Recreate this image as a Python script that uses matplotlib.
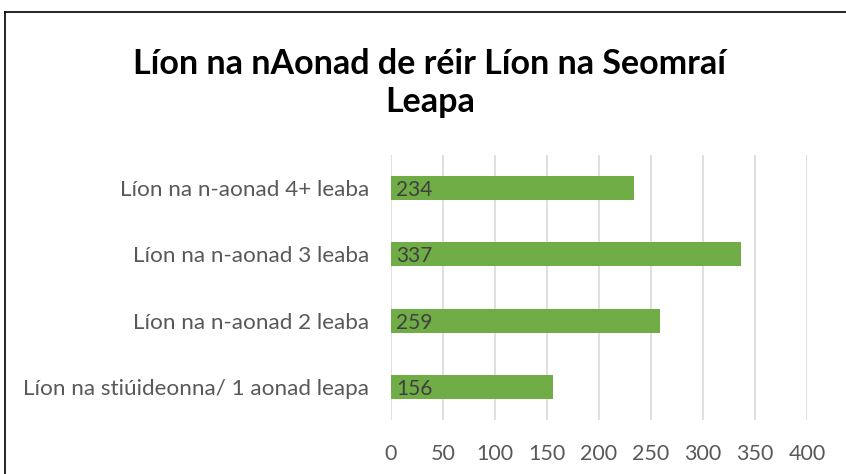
import numpy as np
import matplotlib as mpl
import matplotlib.pyplot as plt
from matplotlib.lines import Line2D

mpl.rcParams['font.family'] = ['Lato', 'DejaVu Sans']

categories = ['Líon na stiúideonna/ 1 aonad leapa',
              'Líon na n-aonad 2 leaba',
              'Líon na n-aonad 3 leaba',
              'Líon na n-aonad 4+ leaba']
values = [156, 259, 337, 234]
xticks = [0, 50, 100, 150, 200, 250, 300, 350, 400]
title = 'Líon na nAonad de réir Líon na Seomraí\nLeapa'

fig = plt.figure(figsize=(8.46, 4.74), dpi=100)
ax = fig.add_axes([391/846, 54/474, 416/846, 265/474])

y = np.arange(len(categories))
bars = ax.barh(y, values, height=0.36, color='#70AD47', zorder=3)

for yi, v in zip(y, values):
    ax.text(5, yi - 0.03, str(v), va='center', ha='left', fontsize=15, color='#404040', zorder=4)

ax.set_xlim(0, 400)
ax.set_ylim(-0.5, 3.5)
ax.set_xticks(xticks)
ax.set_yticks(y)
ax.set_yticklabels(categories)
ax.tick_params(axis='both', length=0, labelsize=15.5, colors='#595959')
ax.tick_params(axis='y', labelsize=16.2, pad=16)
ax.tick_params(axis='x', pad=17)
ax.grid(axis='x', color='#D9D9D9', linewidth=1.2, zorder=0)
for s in ax.spines.values():
    s.set_visible(False)

fig.text(0.508, 1 - 83/474, title, ha='center', va='center', fontsize=24.5,
         fontweight='bold', color='black', linespacing=1.25)

# outer frame (left and top edges visible)
fig.add_artist(Line2D([5/846, 5/846], [0, 1 - 12/474], color='black', lw=1.2,
                      transform=fig.transFigure))
fig.add_artist(Line2D([5/846, 1], [1 - 12/474, 1 - 12/474], color='black', lw=1.2,
                      transform=fig.transFigure))

fig.savefig('out.png', dpi=100)
